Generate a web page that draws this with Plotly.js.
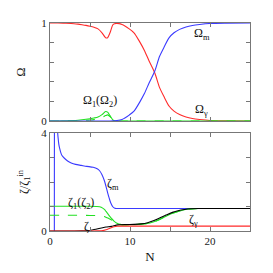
<!DOCTYPE html>
<html>
<head>
<meta charset="utf-8">
<script src="https://cdn.plot.ly/plotly-3.0.1.min.js"></script>
<style>html,body{margin:0;padding:0;background:#fff;}#chart{width:273px;height:273px;}</style>
</head>
<body>
<div id="chart"></div>
<script>
// ---- Top panel: density parameters Omega vs N ----
const N_omega = [0, 1, 2, 3, 3.5, 4, 4.5, 5, 5.5, 6, 6.5, 6.95, 7.2, 7.5, 7.9, 8.3, 9, 9.9, 10.5, 11.2, 11.8, 12.4, 13.1, 13.7, 14.3, 14.9, 15.5, 16.2, 17, 17.8, 18.7, 20, 22, 25];
const omega_gamma = [1, 1, 0.997, 0.993, 0.989, 0.983, 0.976, 0.967, 0.956, 0.94, 0.9, 0.85, 0.85, 0.9, 0.985, 0.996, 0.985, 0.94, 0.9, 0.81, 0.72, 0.61, 0.49, 0.34, 0.24, 0.15, 0.1, 0.065, 0.04, 0.025, 0.015, 0.005, 0.001, 0];
const omega_m = [0, 0, 0, 0, 0, 0, 0, 0, 0, 0, 0, 0, 0, 0, 0.001, 0.004, 0.015, 0.06, 0.1, 0.19, 0.28, 0.39, 0.51, 0.66, 0.76, 0.85, 0.9, 0.935, 0.96, 0.975, 0.985, 0.995, 0.999, 1];
const omega_1 = [0, 0, 0.002, 0.005, 0.008, 0.012, 0.017, 0.023, 0.03, 0.04, 0.065, 0.097, 0.09, 0.055, 0.008, 0, 0, 0, 0, 0, 0, 0, 0, 0, 0, 0, 0, 0, 0, 0, 0, 0, 0, 0];
const omega_2 = [0, 0, 0.001, 0.002, 0.003, 0.005, 0.007, 0.01, 0.014, 0.02, 0.035, 0.055, 0.062, 0.045, 0.005, 0, 0, 0, 0, 0, 0, 0, 0, 0, 0, 0, 0, 0, 0, 0, 0, 0, 0, 0];

// ---- Bottom panel: curvature perturbations zeta / zeta_1^in ----
const N_zm = [0, 0.3, 0.54, 0.56, 0.75, 0.9, 1.0, 1.1, 1.2, 1.35, 1.5, 1.8, 2.2, 2.65, 3.2, 3.9, 4.6, 5.4, 5.9, 6.2, 6.5, 6.8, 7.0, 7.2, 7.4, 7.6, 7.85, 8.1, 8.4, 9, 12, 18, 25];
const zeta_m = [-1.5, -2.5, -6, 8, 6, 4.3, 3.85, 3.55, 3.38, 3.2, 3.08, 2.97, 2.86, 2.78, 2.72, 2.68, 2.64, 2.6, 2.54, 2.46, 2.3, 2.05, 1.82, 1.57, 1.34, 1.14, 0.99, 0.93, 0.92, 0.92, 0.92, 0.92, 0.92];

const N_z12 = [0, 2, 4, 5, 5.8, 6.4, 6.8, 7.0, 7.3, 7.65, 8.0, 8.3, 8.9, 9.5, 10, 11, 12, 13, 13.7, 14.5, 15.3, 16, 16.8, 17.6, 18.5, 20, 25];
const zeta_1 = [1.01, 1.01, 1.01, 1.01, 1.0, 0.97, 0.88, 0.8, 0.67, 0.53, 0.4, 0.33, 0.26, 0.25, 0.255, 0.27, 0.3, 0.38, 0.47, 0.6, 0.72, 0.8, 0.87, 0.9, 0.92, 0.92, 0.92];
const zeta_2 = [0.64, 0.64, 0.64, 0.635, 0.63, 0.615, 0.59, 0.56, 0.52, 0.46, 0.39, 0.33, 0.26, 0.25, 0.255, 0.27, 0.3, 0.38, 0.47, 0.6, 0.72, 0.8, 0.87, 0.9, 0.92, 0.92, 0.92];

const N_z = [0, 3, 4, 4.7, 5.5, 6.4, 7, 7.65, 8.5, 9.5, 10.5, 11.4, 12.2, 13, 13.7, 14.5, 15.3, 16, 16.8, 17.6, 18.5, 20, 25];
const zeta_tot = [0, 0, 0.003, 0.015, 0.06, 0.12, 0.16, 0.19, 0.25, 0.265, 0.27, 0.29, 0.34, 0.43, 0.53, 0.65, 0.76, 0.83, 0.88, 0.91, 0.92, 0.92, 0.92];

const N_zg = [0, 5, 6, 6.6, 7.0, 7.5, 8.0, 8.4, 9, 12, 25];
const zeta_gamma = [0, 0, 0.003, 0.015, 0.05, 0.11, 0.17, 0.195, 0.2, 0.2, 0.2];

// tick labels (labelled ticks; minor ticks in between)
const xTickVals = [0, 10, 20];
const xTickText = ['0', '10', '20'];
const yTopVals = [0, 1];
const yTopText = ['0', '1'];
const yBotVals = [0, 4];
const yBotText = ['0', '4'];

const RED = '#ff2a2a', BLUE = '#3a3aff', GREEN = '#22e022', BLACK = '#000000';
const SERIF = 'Liberation Serif, Times New Roman, serif';

function tr(x, y, color, xa, ya, dash) {
  return {x: x, y: y, type: 'scatter', mode: 'lines', xaxis: xa, yaxis: ya,
    line: {color: color, width: 1.1, dash: dash || 'solid', shape: 'spline', smoothing: 0.8},
    hoverinfo: 'skip', showlegend: false};
}

const data = [
  tr(N_omega, omega_gamma, RED, 'x2', 'y2'),
  tr(N_omega, omega_2, GREEN, 'x2', 'y2', 'dash'),
  tr(N_omega, omega_1, GREEN, 'x2', 'y2'),
  tr(N_omega, omega_m, BLUE, 'x2', 'y2'),
  tr(N_zm, zeta_m, BLUE, 'x', 'y'),
  tr(N_z12, zeta_2, GREEN, 'x', 'y', 'dash'),
  tr(N_z12, zeta_1, GREEN, 'x', 'y'),
  tr(N_z, zeta_tot, BLACK, 'x', 'y'),
  tr(N_zg, zeta_gamma, RED, 'x', 'y')
];

const axBase = {showline: true, linecolor: '#777', linewidth: 1, mirror: 'ticks', ticks: 'inside',
  ticklen: 4, tickcolor: '#777', showgrid: false, zeroline: false, fixedrange: true,
  tickfont: {family: SERIF, size: 11, color: '#222'}};
const minorX = {ticks: 'inside', ticklen: 4, tickcolor: '#777', dtick: 5, tick0: 0, showgrid: false};

const ann = (text, x, y, xref, yref) => ({text: text, x: x, y: y, xref: xref, yref: yref,
  showarrow: false, font: {family: SERIF, size: 12, color: '#111'}});

const layout = {
  width: 273, height: 273,
  margin: {l: 50, r: 23, t: 23, b: 42},
  paper_bgcolor: '#fff', plot_bgcolor: '#fff',
  showlegend: false,
  xaxis: Object.assign({}, axBase, {range: [0, 25], anchor: 'y', tickmode: 'array', tickvals: xTickVals, ticktext: xTickText,
    minor: minorX,
    title: {text: 'N', font: {family: SERIF, size: 13, color: '#111'}, standoff: 5}}),
  xaxis2: Object.assign({}, axBase, {range: [0, 25], anchor: 'y2', matches: 'x', tickmode: 'array', tickvals: xTickVals,
    minor: minorX, showticklabels: false}),
  yaxis: Object.assign({}, axBase, {domain: [0, 0.471], range: [0, 4], anchor: 'x', tickmode: 'array', tickvals: yBotVals, ticktext: yBotText,
    minor: {ticks: 'inside', ticklen: 4, tickcolor: '#777', dtick: 1, tick0: 0, showgrid: false},
    title: {text: 'ζ/ζ<sub>1</sub><sup>in</sup>', font: {family: SERIF, size: 12, color: '#111'}, standoff: 10}}),
  yaxis2: Object.assign({}, axBase, {domain: [0.529, 1], range: [0, 1], anchor: 'x2', tickmode: 'array', tickvals: yTopVals, ticktext: yTopText,
    minor: {ticks: 'inside', ticklen: 4, tickcolor: '#777', dtick: 0.2, tick0: 0, showgrid: false},
    title: {text: 'Ω', font: {family: SERIF, size: 12, color: '#111'}, standoff: 13}}),
  annotations: [
    ann('Ω<sub>m</sub>', 19, 0.89, 'x2', 'y2'),
    ann('Ω<sub>γ</sub>', 18.9, 0.115, 'x2', 'y2'),
    ann('Ω<sub>1</sub>(Ω<sub>2</sub>)', 6.2, 0.2, 'x2', 'y2'),
    ann('ζ<sub>m</sub>', 7.9, 1.92, 'x', 'y'),
    ann('ζ<sub>1</sub>(ζ<sub>2</sub>)', 3.85, 1.16, 'x', 'y'),
    ann('ζ', 4.6, 0.22, 'x', 'y'),
    ann('ζ<sub>γ</sub>', 17.9, 0.45, 'x', 'y')
  ]
};

Plotly.newPlot('chart', data, layout, {staticPlot: true, displayModeBar: false});
</script>
</body>
</html>
